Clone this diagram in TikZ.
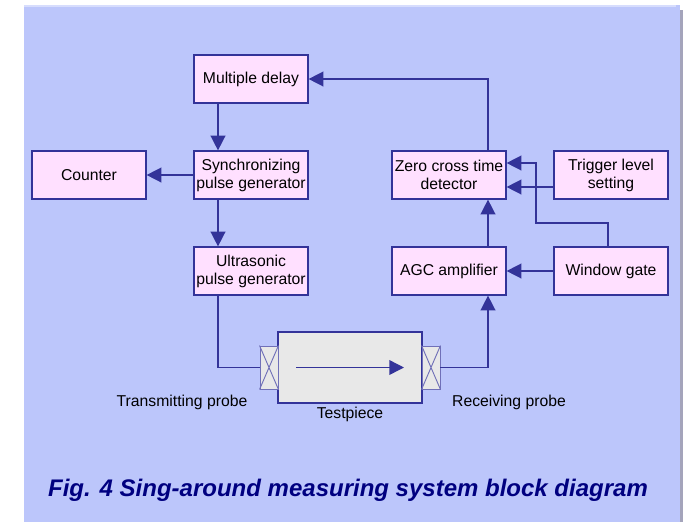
\documentclass[tikz,border=0pt]{standalone}
\usepackage{fontspec}
\setmainfont{Liberation Sans}
\usetikzlibrary{arrows.meta}
\definecolor{panel}{HTML}{BCC6FB}
\definecolor{boxfill}{HTML}{FFE0FF}
\definecolor{edge}{HTML}{333399}
\definecolor{navy}{HTML}{000080}
\definecolor{piece}{HTML}{E8E8E8}

\begin{document}
\begin{tikzpicture}[x=0.75pt,y=-0.75pt,
    block/.style={draw=edge,line width=0.9pt,fill=boxfill,minimum width=85.5pt,minimum height=36pt,
      inner sep=0pt,align=center,font=\fontsize{11.8}{13.5}\selectfont},
    probe/.style={draw=edge!70,line width=0.7pt,fill=piece,minimum width=13.5pt,minimum height=32.25pt,inner sep=0pt},
    lbl/.style={font=\fontsize{11.8}{13.5}\selectfont},
    arr/.style={draw=edge,line width=1.1pt,-{Triangle[length=11pt,width=11pt]}},
    wire/.style={draw=edge,line width=1.1pt}]

     %Frame
     \useasboundingbox[fill=white] (0,0) rectangle (693,522);
     \fill[black!45!edge!40] (680,10) rectangle (683,522);
     \fill[panel] (24,5) rectangle (680,522);
     \fill[panel!60!white] (24,5) rectangle (676,7);

     %Blocks
     \node[block] (delay)   at (251,79)  {Multiple delay};
     \node[block] (sync)    at (251,175) {Synchronizing\\pulse generator};
     \node[block] (counter) at (89,175)  {Counter};
     \node[block] (ultra)   at (251,271) {Ultrasonic\\pulse generator};
     \node[block] (zero)    at (449,175) {Zero cross time\\detector};
     \node[block] (trigger) at (611,175) {Trigger level\\setting};
     \node[block] (agc)     at (449,271) {AGC amplifier};
     \node[block] (window)  at (611,271) {Window gate};

     %Testpiece and probes
     \node[draw=edge,line width=0.8pt,fill=piece,minimum width=108pt,minimum height=53.25pt,inner sep=0pt]
       (piece) at (350,367.5) {};
     \node[probe] (tprobe) at (269,367.5) {};
     \node[probe] (rprobe) at (431,367.5) {};
     \draw[edge!70,line width=0.7pt] (tprobe.north west) -- (tprobe.south east) (tprobe.south west) -- (tprobe.north east);
     \draw[edge!70,line width=0.7pt] (rprobe.north west) -- (rprobe.south east) (rprobe.south west) -- (rprobe.north east);
     \coordinate (wave0) at (296,367.5);
     \coordinate (wave1) at (404,367.5);
     \draw[arr] (wave0) -- (wave1);

     \node[lbl] (tlabel) at (182,402) {Transmitting probe};
     \node[lbl] (plabel) at (350,414) {Testpiece};
     \node[lbl] (rlabel) at (509,402) {Receiving probe};

     %Signal paths
     \coordinate (ltrunk) at (218,0);
     \coordinate (rtrunk) at (488,0);
     \coordinate (gate) at (536,223);
     \draw[arr] (delay.south -| ltrunk) -- (sync.north -| ltrunk);
     \draw[arr] (sync.west) -- (counter.east);
     \draw[arr] (sync.south -| ltrunk) -- (ultra.north -| ltrunk);
     \draw[wire] (ultra.south -| ltrunk) |- (tprobe.west);
     \draw[arr] (rprobe.east) -| (agc.south -| rtrunk);
     \draw[arr] (agc.north -| rtrunk) -- (zero.south -| rtrunk);
     \draw[arr] (zero.north -| rtrunk) |- (delay.east);
     \draw[arr] ([yshift=-9pt]trigger.west) -- ([yshift=-9pt]zero.east);
     \draw[arr] (window.west) -- (agc.east);
     \draw[arr] ([xshift=-2.25pt]window.north) |- (gate) |- ([yshift=9pt]zero.east);

     %Caption
     \node[font=\fontsize{18}{21}\selectfont\bfseries\itshape,text=navy] (caption) at (348,490)
       {Fig. 4 Sing-around measuring system block diagram};

    \end{tikzpicture}
\end{document}
